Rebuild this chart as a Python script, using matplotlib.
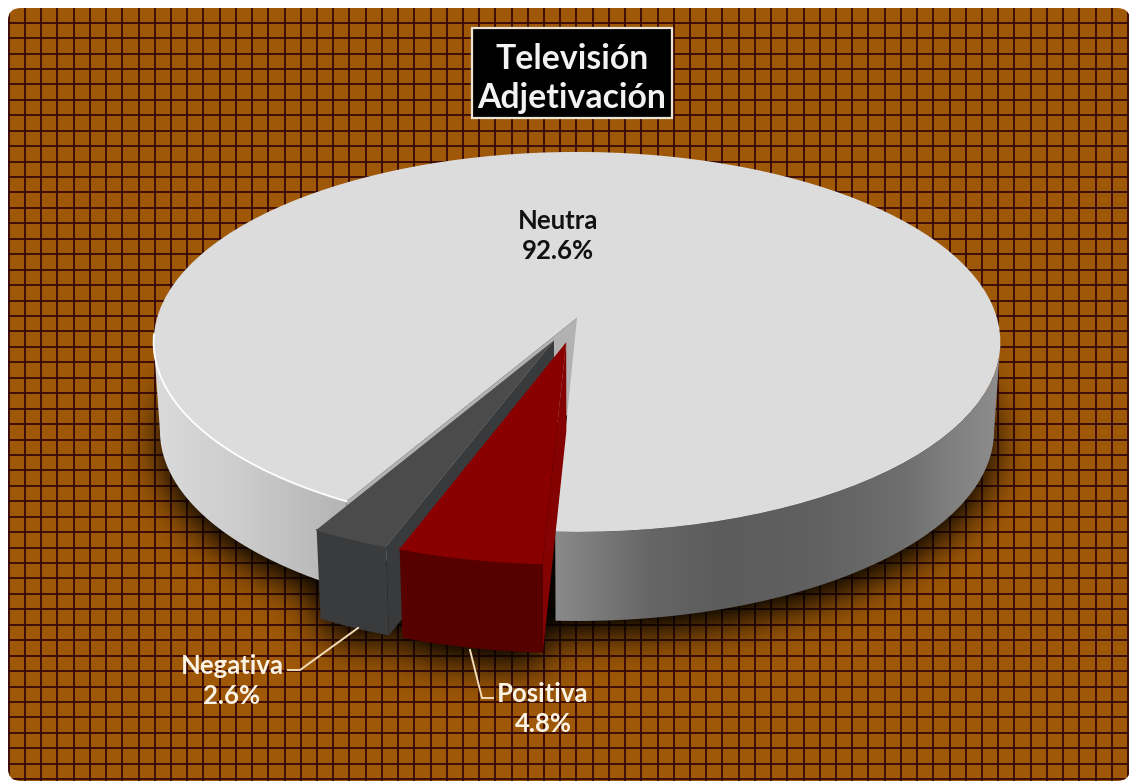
import numpy as np
import matplotlib
matplotlib.use("Agg")
import matplotlib.pyplot as plt
from matplotlib.patches import FancyBboxPatch, PathPatch, Polygon, Rectangle
from matplotlib.path import Path

plt.rcParams["font.family"] = ["Lato", "DejaVu Sans"]

# datos del grafico
categorias = ["Positiva", "Negativa", "Neutra"]
valores = [4.8, 2.6, 92.6]
titulo = ["Televisión", "Adjetivación"]

W, H = 1129, 781

# geometria de la torta en perspectiva
CX, CY = 577, 318
A, B = 420, 187
K = 0.126
PROF = 89
ENCOGE = 0.985
EXPLODE = 0.13
INICIO = 2.6


def proyecta(u, v):
    w = 1 - K * v
    return CX + A * u / w, CY + B * v / w


def arco(a0, a1, du=0.0, dv=0.0, n=120):
    t = np.radians(np.linspace(a0, a1, n))
    x, y = proyecta(du - np.sin(t), dv + np.cos(t))
    return np.column_stack([x, y])


def cuña(a0, a1, du=0.0, dv=0.0):
    x0, y0 = proyecta(du, dv)
    return np.vstack([[x0, y0], arco(a0, a1, du, dv)])


def baja(puntos):
    # la base se ve un poco mas angosta que la cara superior
    puntos = np.atleast_2d(puntos)
    return np.column_stack([CX + (puntos[:, 0] - CX) * ENCOGE, puntos[:, 1] + PROF])


def extruye(puntos):
    return np.vstack([puntos, baja(puntos)[::-1]])


# angulos a partir de los valores
angulos = INICIO + np.cumsum([0] + valores) * 3.6
a_pos = angulos[0], angulos[1]
a_neg = angulos[1], angulos[2]
a_neu = angulos[2], angulos[3]


def desplaza(a0, a1):
    m = np.radians((a0 + a1) / 2)
    return -EXPLODE * np.sin(m), EXPLODE * np.cos(m)


d_pos = desplaza(*a_pos)
d_neg = desplaza(*a_neg)

fig = plt.figure(figsize=(W / 100, H / 100), dpi=100, facecolor="white")
ax = fig.add_axes([0, 0, 1, 1])
ax.axis("off")

# fondo con cuadricula
panel = FancyBboxPatch((8, 8), W - 7, H - 8, boxstyle="round,pad=0,rounding_size=13",
                       fc="#9e5807", ec="none", zorder=0)
ax.add_patch(panel)
lineas_v = ax.vlines(8.8 + 16.22 * np.arange(70), 0, H, color="#360808", lw=1.3, zorder=1)
lineas_h = ax.hlines(7.2 + 15.44 * np.arange(52), 0, W, color="#360808", lw=1.3, zorder=1)
lineas_v.set_clip_path(panel)
lineas_h.set_clip_path(panel)

# sombra difusa debajo de la torta
yy, xx = np.mgrid[0:H, 0:W]
pts = np.column_stack([xx.ravel() + 0.5, yy.ravel() + 0.5])
circulo = arco(0, 360, n=240)
formas = [baja(circulo) + [0, 14],
          extruye(arco(*a_pos, *d_pos)) + [0, 14],
          extruye(arco(*a_neg, *d_neg)) + [0, 14]]
mask = np.zeros(H * W, dtype=bool)
for f in formas:
    mask |= Path(f).contains_points(pts)
mask = mask.reshape(H, W).astype(float)
fy = np.fft.fftfreq(H)[:, None]
fx = np.fft.fftfreq(W)[None, :]
sigma = 20
borrosa = np.fft.ifft2(np.fft.fft2(mask) * np.exp(-2 * (np.pi * sigma) ** 2 * (fx ** 2 + fy ** 2))).real
sombra = np.zeros((H, W, 4))
sombra[..., 3] = np.clip(borrosa * 1.15, 0, 1) * 0.95
ax.imshow(sombra, extent=(0, W, H, 0), aspect="auto", zorder=2, interpolation="bilinear")

# costado de la porcion neutra con degradado horizontal
t_neu = np.linspace(a_neu[0], a_neu[1], 600)
visible = np.cos(np.radians(t_neu)) >= K
izq = t_neu[visible & (t_neu < 180)]
der = t_neu[visible & (t_neu > 180)]
sub = [extruye(arco(t[0], t[-1])) for t in (izq, der)]
verts = np.vstack([np.vstack([s, s[0]]) for s in sub])
codes = []
for s in sub:
    codes += [Path.MOVETO] + [Path.LINETO] * (len(s) - 1) + [Path.CLOSEPOLY]
clip = PathPatch(Path(verts, codes), fc="none", ec="none", transform=ax.transData, zorder=3)
ax.add_patch(clip)
gx = [150, 240, 330, 555, 650, 720, 820, 900, 950, 1005]
gv = [0.86, 0.80, 0.72, 0.54, 0.40, 0.36, 0.38, 0.43, 0.50, 0.56]
grad = np.interp(np.arange(W), gx, gv)
grad = np.repeat(grad[None, :, None], 3, axis=2)
im = ax.imshow(grad, extent=(0, W, H, 0), aspect="auto", zorder=3, vmin=0, vmax=1)
im.set_clip_path(clip)

# pared interior visible y cara superior de la neutra
x0, y0 = proyecta(0, 0)
borde = arco(a_neu[0], a_neu[0], n=2)[0]
ax.add_patch(Polygon([[x0, y0], borde, baja(borde)[0], baja([x0, y0])[0]],
                     fc="#b2b2b2", ec="none", zorder=4))
ax.add_patch(Polygon(cuña(a_neu[0], a_neu[1]), fc="#dcdcdc", ec="none", zorder=5))
ax.plot(*arco(a_neu[0], 85).T, color="white", lw=1.3, zorder=6)

# porciones separadas
estilos = [
    (a_pos, d_pos, "#8a0000", "#850202", "#570000", 9),
    (a_neg, d_neg, "#4b4b4b", "#383a3c", "#3a3b3d", 7),
]
for ang, d, c_top, c_pared, c_lado, z in estilos:
    xa, ya = proyecta(*d)
    fin = arco(ang[0], ang[0], *d, n=2)[0]
    ax.add_patch(Polygon([[xa, ya], fin, baja(fin)[0], baja([xa, ya])[0]],
                         fc=c_pared, ec="none", zorder=z))
    ax.add_patch(Polygon(extruye(arco(*ang, *d)), fc=c_lado, ec="none", zorder=z))
    ax.add_patch(Polygon(cuña(*ang, *d), fc=c_top, ec="none", zorder=z + 0.5))
    ax.plot(*arco(*ang, *d).T, color=c_top, lw=1, zorder=z + 0.6)

# lineas guia
ax.plot([358, 300, 288], [628, 670, 670], color="#f2dcb8", lw=1.4, zorder=11)
ax.plot([470, 482, 493], [650, 698, 698], color="#f2dcb8", lw=1.4, zorder=11)

# etiquetas
etiquetas = [
    (categorias[2], valores[2], 558, 221, "#111111"),
    (categorias[1], valores[1], 232, 666, "#fbf3e4"),
    (categorias[0], valores[0], 543, 694, "#fbf3e4"),
]
for nombre, valor, x, y, color in etiquetas:
    ax.text(x, y, nombre, ha="center", va="center", fontsize=18.5, fontweight="bold",
            color=color, zorder=12)
    ax.text(x, y + 30, f"{valor:.1f}%", ha="center", va="center",
            fontsize=18.5, fontweight="bold", color=color, zorder=12)

# titulo
ax.add_patch(Rectangle((472, 28), 200, 90, fc="black", ec="#ece4d4", lw=1.6, zorder=12))
ax.text(572, 59, titulo[0], ha="center", va="center", fontsize=24.3, fontweight="bold",
        color="#f2f2f2", zorder=13)
ax.text(572, 98, titulo[1], ha="center", va="center", fontsize=24.3, fontweight="bold",
        color="#f2f2f2", zorder=13)

ax.set_xlim(0, W)
ax.set_ylim(H, 0)
fig.savefig("out.png", dpi=100, facecolor="white")
